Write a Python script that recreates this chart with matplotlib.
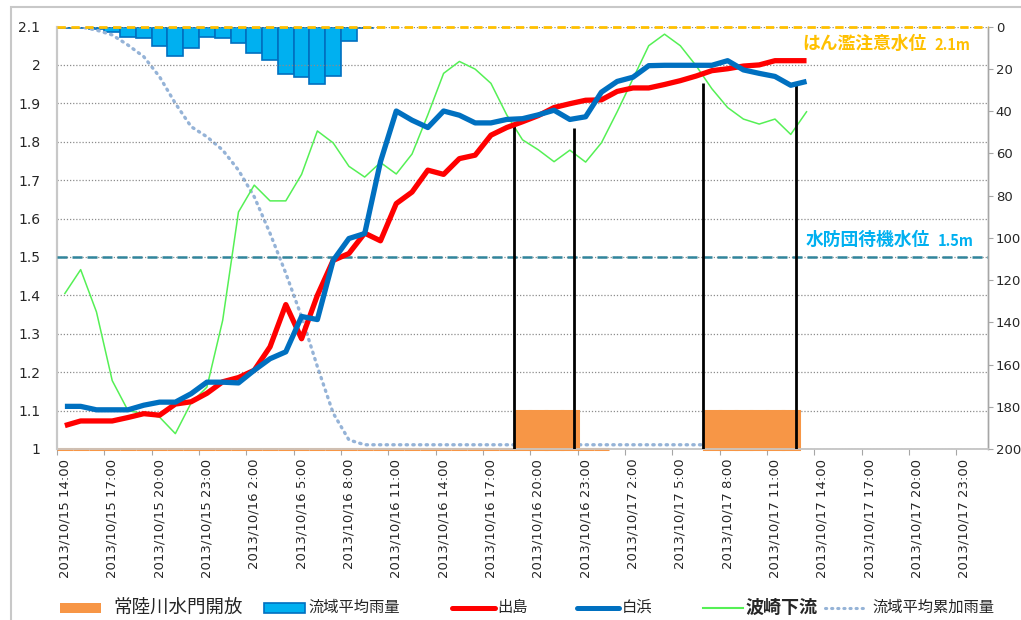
import numpy as np
import matplotlib
matplotlib.use("Agg")
import matplotlib.pyplot as plt
from matplotlib.lines import Line2D
from matplotlib.patches import Rectangle
from matplotlib.ticker import FuncFormatter

plt.rcParams['font.family'] = ['DejaVu Sans', 'Noto Sans CJK JP']
JP = ['Noto Sans CJK JP', 'DejaVu Sans']

# ---------------- data ----------------
tick_labels = ["2013/10/15 14:00", "2013/10/15 17:00", "2013/10/15 20:00", "2013/10/15 23:00",
               "2013/10/16 2:00", "2013/10/16 5:00", "2013/10/16 8:00", "2013/10/16 11:00",
               "2013/10/16 14:00", "2013/10/16 17:00", "2013/10/16 20:00", "2013/10/16 23:00",
               "2013/10/17 2:00", "2013/10/17 5:00", "2013/10/17 8:00", "2013/10/17 11:00",
               "2013/10/17 14:00", "2013/10/17 17:00", "2013/10/17 20:00", "2013/10/17 23:00"]
n_categories = 59  # hourly, 10/15 14:00 .. 10/18 0:00

dejima = [1.061, 1.073, 1.073, 1.073, 1.082, 1.092, 1.088, 1.117, 1.123, 1.145,
          1.175, 1.186, 1.205, 1.266, 1.376, 1.287, 1.400, 1.491, 1.509, 1.562,
          1.542, 1.639, 1.669, 1.726, 1.715, 1.756, 1.765, 1.817, 1.837, 1.852,
          1.868, 1.889, 1.899, 1.908, 1.909, 1.931, 1.940, 1.940, 1.949, 1.959,
          1.971, 1.985, 1.990, 1.997, 2.000, 2.011, 2.011, 2.011]

shirahama = [1.111, 1.111, 1.102, 1.102, 1.102, 1.114, 1.122, 1.122, 1.144, 1.174,
             1.174, 1.172, 1.205, 1.235, 1.253, 1.345, 1.337, 1.491, 1.548, 1.561,
             1.748, 1.880, 1.856, 1.837, 1.880, 1.869, 1.849, 1.849, 1.858, 1.860,
             1.870, 1.882, 1.858, 1.865, 1.929, 1.957, 1.968, 1.998, 1.999, 1.999,
             1.999, 1.999, 2.011, 1.987, 1.978, 1.970, 1.947, 1.957]

hasaki = [1.405, 1.467, 1.357, 1.178, 1.100, 1.092, 1.083, 1.040, 1.120, 1.161,
          1.335, 1.617, 1.687, 1.646, 1.646, 1.715, 1.828, 1.797, 1.736, 1.708,
          1.746, 1.716, 1.768, 1.870, 1.978, 2.009, 1.989, 1.952, 1.870, 1.805,
          1.779, 1.748, 1.778, 1.747, 1.797, 1.878, 1.964, 2.050, 2.080, 2.050,
          1.998, 1.938, 1.889, 1.859, 1.846, 1.859, 1.819, 1.878]

rain = [0.5, 0.5, 1.2, 2.4, 5.1, 5.6, 9.1, 14.1, 10.0, 5.1,
        5.6, 7.8, 12.4, 15.9, 22.7, 23.8, 27.3, 23.3, 6.7, 0.5]

rain_cum = [0.0, 0.2, 1.7, 4.0, 8.8, 14.3, 23.8, 36.4, 47.4, 52.2,
            58.5, 68.0, 80.6, 97.9, 116.8, 137.4, 161.0, 183.0, 195.7, 198.0,
            198.0, 198.0, 198.0, 198.0, 198.0, 198.0, 198.0, 198.0, 198.0, 198.0,
            198.0, 198.0, 198.0, 198.0, 198.0, 198.0, 198.0, 198.0, 198.0, 198.0,
            198.0, 198.0, 198.0]

nan = float('nan')
# gate level indicator (1.1 = open, 1.0 = closed)
gate = [1.0, 1.0, 1.0, 1.0, 1.0, 1.0, 1.0, 1.0, 1.0, 1.0,
        1.0, 1.0, 1.0, 1.0, 1.0, 1.0, 1.0, 1.0, 1.0, 1.0,
        1.0, 1.0, 1.0, 1.0, 1.0, 1.0, 1.0, 1.0, 1.0, 1.1,
        1.1, 1.1, 1.1, 1.0, 1.0, nan, nan, nan, nan, nan,
        nan, 1.1, 1.1, 1.1, 1.1, 1.1, 1.1]

# drop lines (time position, level)
drop_x = [28.44, 32.29, 40.42, 46.36]
drop_top = [1.843, 1.835, 1.952, 1.952]

warn_level = 2.1
standby_level = 1.5

# ---------------- figure ----------------
W, H = 1021, 620
fig = plt.figure(figsize=(W / 100, H / 100), dpi=100)
fig.patch.set_facecolor('white')

def fx(px):
    return px / W

def fy(py):
    return 1 - py / H

ax = fig.add_axes([fx(57), fy(449), fx(988) - fx(57), fy(26.5) - fy(449)])
ax2 = ax.twinx()
ax.set_zorder(ax2.get_zorder() + 1)
ax.patch.set_visible(False)

# right axis: rainfall (inverted)
ax2.bar(np.arange(len(rain)), rain, width=1.0, color='#00b0f0', edgecolor='#0070c0',
        linewidth=1.2, zorder=2)
ax2.plot(np.arange(len(rain_cum)), rain_cum, color='#95b3d7', lw=2.4,
         linestyle=(0, (0.4, 1.6)), dash_capstyle='round', zorder=3)
ax2.set_ylim(200, 0)
ax2.set_yticks(np.arange(0, 201, 20))
ax2.tick_params(axis='y', length=3.5, color='#a6a6a6', labelsize=9.5, labelcolor='#262626', pad=2)

# left axis
ax.set_xlim(-0.5, n_categories - 0.5)
ax.set_ylim(1.0, 2.1)
ax.set_yticks(np.round(np.arange(1.0, 2.101, 0.1), 1))
ax.yaxis.set_major_formatter(FuncFormatter(lambda v, p: '%g' % round(v, 1)))
ax.tick_params(axis='y', length=0, labelsize=10, labelcolor='#262626', pad=12)
ax.yaxis.grid(True, linestyle=(0, (1, 1.5)), color='#8c8c8c', lw=0.9)
ax.set_axisbelow(True)

# gate bars
gate_arr = np.array(gate)
gx = np.arange(len(gate))
ax.bar(gx, gate_arr - 1.0, bottom=1.0, width=1.0, color='#f79646', edgecolor='#f79646',
       linewidth=2.2, zorder=2, clip_on=False)

# threshold lines
ax.axhline(warn_level, color='#ffc000', lw=2.0, linestyle=(0, (3, 2)), zorder=4, clip_on=False)
ax.axhline(standby_level, color='#31859c', lw=1.8, linestyle=(0, (4, 2)), zorder=4)

# drop lines
ax.vlines(drop_x, 1.0, drop_top, color='black', lw=2.0, zorder=6)

# series
ax.plot(np.arange(len(hasaki)), hasaki, color='#55f055', lw=1.1, zorder=5)
ax.plot(np.arange(len(dejima)), dejima, color='#ff0000', lw=3.8, zorder=6,
        solid_joinstyle='round', solid_capstyle='butt')
ax.plot(np.arange(len(shirahama)), shirahama, color='#0070c0', lw=3.8, zorder=7,
        solid_joinstyle='round', solid_capstyle='butt')

# x ticks
ax.set_xticks(np.arange(-0.5, n_categories - 1, 3))
ax.set_xticklabels([])
ax.tick_params(axis='x', which='major', length=4.5, color='#a6a6a6', direction='out')
ax.set_xticks(np.arange(0, 3 * len(tick_labels), 3), minor=True)
ax.set_xticklabels(tick_labels, minor=True, rotation=90, fontsize=9.5, color='#262626',
                   va='top', ha='center')
ax.tick_params(axis='x', which='minor', length=0, pad=7)

for a in (ax, ax2):
    a.spines['top'].set_visible(False)
    a.spines['left'].set_color('#c8c8c8')
    a.spines['left'].set_linewidth(1.5)
    a.spines['bottom'].set_color('#c8c8c8')
    a.spines['bottom'].set_linewidth(1.2)
    a.spines['right'].set_color('#a6a6a6')
    a.spines['right'].set_linewidth(1.0)

# annotations
fig.text(fx(802), fy(43.5), 'はん濫注意水位', family=JP, fontsize=12.8, fontweight='bold',
         color='#ffc000', va='center', ha='left')
fig.text(fx(934), fy(44.5), '2.1m', family=JP, fontsize=10.5, fontweight='bold',
         color='#ffc000', va='center', ha='left')
fig.text(fx(806), fy(240), '水防団待機水位', family=JP, fontsize=12.8, fontweight='bold',
         color='#00b0f0', va='center', ha='left')
fig.text(fx(938), fy(241), '1.5m', family=JP, fontsize=10.5, fontweight='bold',
         color='#00b0f0', va='center', ha='left')

# legend (manual)
ly = 607.5
fig.add_artist(Rectangle((fx(60), fy(613)), fx(101) - fx(60), fy(603) - fy(613),
                         facecolor='#f79646', edgecolor='none', transform=fig.transFigure))
fig.text(fx(113), fy(ly), '常陸川水門開放', family=JP, fontsize=13.3, color='#262626', va='center')
fig.add_artist(Rectangle((fx(264), fy(613)), fx(305) - fx(264), fy(603) - fy(613),
                         facecolor='#00b0f0', edgecolor='#0070c0', lw=1.2,
                         transform=fig.transFigure))
fig.text(fx(308), fy(ly), '流域平均雨量', family=JP, fontsize=11, color='#262626', va='center')
fig.add_artist(Line2D([fx(452), fx(495)], [fy(608), fy(608)], color='#ff0000', lw=3.6,
                      solid_capstyle='round', transform=fig.transFigure))
fig.text(fx(497), fy(ly), '出島', family=JP, fontsize=11, color='#262626', va='center')
fig.add_artist(Line2D([fx(577), fx(619)], [fy(608), fy(608)], color='#0070c0', lw=3.6,
                      solid_capstyle='round', transform=fig.transFigure))
fig.text(fx(622), fy(ly), '白浜', family=JP, fontsize=11, color='#262626', va='center')
fig.add_artist(Line2D([fx(703), fx(743)], [fy(608), fy(608)], color='#55f055', lw=1.5,
                      transform=fig.transFigure))
fig.text(fx(746), fy(ly), '波崎下流', family=JP, fontsize=13, fontweight='bold',
         color='#262626', va='center')
fig.add_artist(Line2D([fx(825), fx(867)], [fy(608), fy(608)], color='#95b3d7', lw=2.2,
                      linestyle=(0, (0.4, 1.6)), dash_capstyle='round',
                      transform=fig.transFigure))
fig.text(fx(872), fy(ly), '流域平均累加雨量', family=JP, fontsize=11, color='#262626', va='center')

# chart-area border
fig.add_artist(Rectangle((fx(11), fy(640)), fx(1040) - fx(11), fy(7) - fy(640),
                         facecolor='none', edgecolor='#c8c8c8', lw=1.5,
                         transform=fig.transFigure, clip_on=False))

fig.savefig('out.png', dpi=100, facecolor='white')
